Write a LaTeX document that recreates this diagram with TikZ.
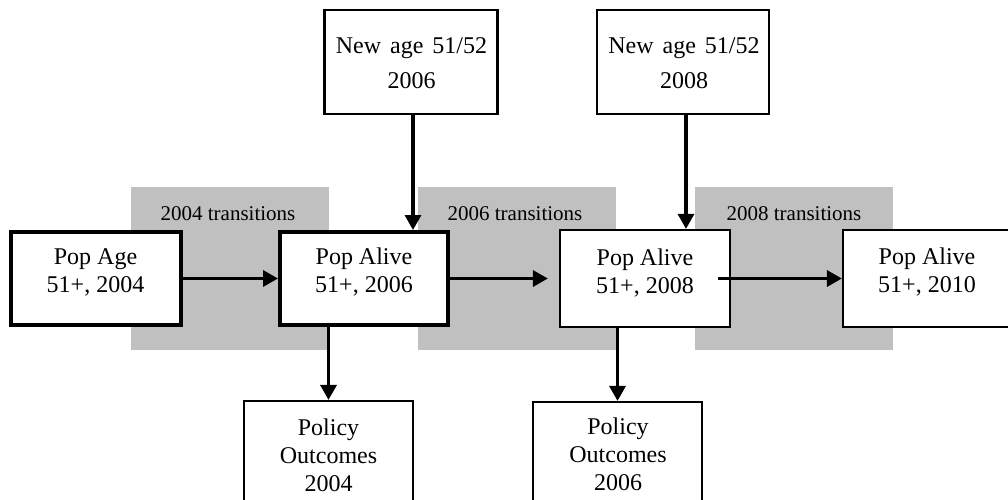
\documentclass[tikz,border=0pt]{standalone}
\usepackage{fontspec}
\setmainfont{Liberation Serif}
\usetikzlibrary{arrows.meta}
\definecolor{bandgray}{RGB}{192,192,192}
\begin{document}
\begin{tikzpicture}[x=1pt,y=-1pt,
  band/.style={fill=bandgray, draw=none, inner sep=0pt, minimum width=198pt, minimum height=163pt},
  thickbox/.style={draw, fill=white, line width=4pt, inner sep=0pt},
  thinbox/.style={draw, fill=white, line width=2.2pt, inner sep=0pt},
  boxtext/.style={anchor=base, align=center, inner sep=0pt, font=\fontsize{24}{28}\selectfont},
  newtext/.style={anchor=base, align=center, inner sep=0pt, font=\fontsize{24}{35}\selectfont},
  bandtext/.style={anchor=base, inner sep=0pt, font=\fontsize{21}{25}\selectfont},
  flow/.style={line width=3.3pt, -{Triangle[length=15pt,width=16pt]}}
]
\useasboundingbox (0,0) rectangle (1008,499);

% grey transition bands
\node[band] (g1) at (230,268.5) {};
\node[band] (g2) at (516.5,268.5) {};
\node[band] (g3) at (794,268.5) {};
\node[bandtext] (g1t) at (228,220) {2004 transitions};
\node[bandtext] (g2t) at (515,220) {2006 transitions};
\node[bandtext] (g3t) at (794,220) {2008 transitions};

% boxes
\node[thickbox, minimum width=170pt, minimum height=93pt] (popage) at (96,278.5) {};
\node[thickbox, minimum width=168pt, minimum height=93pt] (pa2) at (364,278.5) {};
\node[thinbox, minimum width=170pt, minimum height=97pt] (pa3) at (645,278.5) {};
\node[thinbox, minimum width=172pt, minimum height=97pt] (pa4) at (929,278.5) {};
\node[thinbox, minimum width=173pt, minimum height=104pt] (nb1) at (411,62) {};
\node[thinbox, minimum width=172pt, minimum height=104pt] (nb2) at (683,62) {};
\node[thinbox, minimum width=169pt, minimum height=110pt] (po1) at (328.5,456) {};
\node[thinbox, minimum width=169pt, minimum height=110pt] (po2) at (617.5,457) {};

% texts (base anchor = baseline of the last line)
\node[boxtext] (popaget) at (95.5,292) {Pop Age\\51+, 2004};
\node[boxtext] (pa2t) at (364,292) {Pop Alive\\51+, 2006};
\node[boxtext] (pa3t) at (645,293) {Pop Alive\\51+, 2008};
\node[boxtext] (pa4t) at (927,292) {Pop Alive\\51+, 2010};
\node[newtext] (nb1t) at (411.5,88) {New\hspace{9pt}age\hspace{9pt}51/52\\2006};
\node[newtext] (nb2t) at (684,88) {New\hspace{9pt}age\hspace{9pt}51/52\\2008};
\node[boxtext] (po1t) at (328.5,491) {Policy\\Outcomes\\2004};
\node[boxtext] (po2t) at (618,490) {Policy\\Outcomes\\2006};

% connectors
\draw[flow] (popage.east) -- (pa2.west);
\draw[flow] (pa2.east) -- ([xshift=-11pt]pa3.west);
\draw[flow] ([xshift=-13pt]pa3.east) -- (pa4.west);
\draw[flow] ([xshift=2pt]nb1.south) -- ([xshift=2pt]nb1.south |- pa2.north);
\draw[flow] ([xshift=3pt]nb2.south) -- ([xshift=3pt]nb2.south |- pa3.north);
\draw[flow] (po1.north |- pa2.south) -- (po1.north);
\draw[flow] (po2.north |- pa3.south) -- (po2.north);
\end{tikzpicture}
\end{document}
